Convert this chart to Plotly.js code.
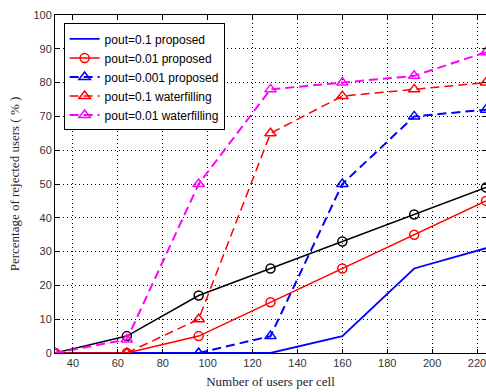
<!DOCTYPE html>
<html><head><meta charset="utf-8">
<script src="https://cdn.plot.ly/plotly-3.0.1.min.js"></script>
<style>html,body{margin:0;padding:0;background:#fff;}#c{width:486px;height:392px;}</style>
</head><body><div id="c"></div>
<script>
const users = [32, 64, 96, 128, 160, 192, 224];
const p01Proposed = [0, 0, 0, 0, 5, 25, 31];
const p001Proposed = [0, 0, 5, 15, 25, 35, 45];
const users0001 = [96, 128, 160, 192, 224];
const p0001Proposed = [0, 5, 50, 70, 72];
const users01wf = [64, 96, 128, 160, 192, 224];
const p01Water = [0, 10, 65, 76, 78, 80];
const p001Water = [0, 4, 50, 78, 80, 82, 89];
const blackSeries = [0, 5, 17, 25, 33, 41, 49];
const xTicks = [40, 60, 80, 100, 120, 140, 160, 180, 200, 220];
const yTicks = [0, 10, 20, 30, 40, 50, 60, 70, 80, 90, 100];

const traces = [
  {x: users, y: blackSeries, mode: 'lines+markers', showlegend: false,
   line: {color: '#000', width: 1.5}, marker: {symbol: 'circle-open', size: 9, color: '#000', line: {width: 1.5}}},
  {x: users, y: p01Proposed, name: 'pout=0.1 proposed', mode: 'lines',
   line: {color: '#0000ff', width: 1.8}},
  {x: users, y: p001Proposed, name: 'pout=0.01 proposed', mode: 'lines+markers',
   line: {color: '#ff0000', width: 1.5}, marker: {symbol: 'circle-open', size: 9, color: '#ff0000', line: {width: 1.5}}},
  {x: users0001, y: p0001Proposed, name: 'pout=0.001 proposed', mode: 'lines+markers',
   line: {color: '#0000ff', width: 2, dash: '9px,5px'}, marker: {symbol: 'triangle-up-open', size: 10, color: '#0000ff', line: {width: 1.5}}},
  {x: users01wf, y: p01Water, name: 'pout=0.1 waterfilling', mode: 'lines+markers',
   line: {color: '#ff0000', width: 1.5, dash: '9px,5px'}, marker: {symbol: 'triangle-up-open', size: 10, color: '#ff0000', line: {width: 1.5}}},
  {x: users, y: p001Water, name: 'pout=0.01 waterfilling', mode: 'lines+markers',
   line: {color: '#ff00ff', width: 2, dash: '9px,5px'}, marker: {symbol: 'triangle-up-open', size: 10, color: '#ff00ff', line: {width: 1.5}}}
];

const axisCommon = {
  showline: true, linecolor: '#000', linewidth: 1, mirror: 'ticks',
  ticks: 'inside', ticklen: 4, tickcolor: '#000',
  showgrid: true, gridcolor: '#000', gridwidth: 1, griddash: '1px,3px',
  zeroline: false, ticklabeloverflow: 'allow',
  tickfont: {family: 'Liberation Sans, Arial, sans-serif', size: 11, color: '#333'}
};

const layout = {
  width: 486, height: 392,
  margin: {l: 55, r: 0, t: 15, b: 39},
  paper_bgcolor: '#fff', plot_bgcolor: '#fff',
  showlegend: true,
  xaxis: Object.assign({}, axisCommon, {
    range: [32, 224], tickvals: xTicks, ticktext: xTicks.map(String),
    title: {text: 'Number of users per cell', standoff: 8,
      font: {family: 'Liberation Serif, Times New Roman, serif', size: 13, color: '#1a1a33'}}
  }),
  yaxis: Object.assign({}, axisCommon, {
    range: [0, 100], tickvals: yTicks, ticktext: yTicks.map(String),
    title: {text: 'Percentage of rejected users ( % )', standoff: 10,
      font: {family: 'Liberation Serif, Times New Roman, serif', size: 13, color: '#2a2233'}}
  }),
  legend: {
    x: 0.02, y: 0.975, xanchor: 'left', yanchor: 'top',
    bgcolor: '#fff', bordercolor: '#000', borderwidth: 1,
    font: {family: 'Liberation Sans, Arial, sans-serif', size: 12, color: '#000'},
    tracegroupgap: 0
  }
};

Plotly.newPlot('c', traces, layout, {displayModeBar: false, staticPlot: true});
</script>
</body></html>
